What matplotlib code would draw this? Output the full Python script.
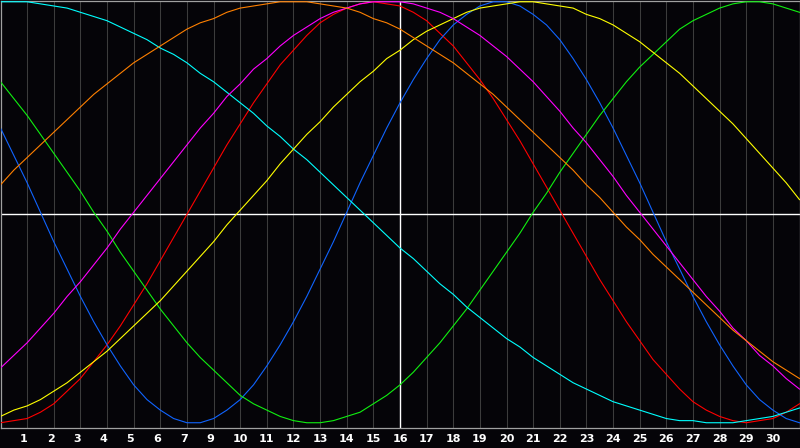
import matplotlib
matplotlib.use("Agg")
import matplotlib.pyplot as plt
import numpy as np

# ── Data: cycle values in % (-100..100), read every half day ────────────────
days = np.arange(0, 30.01, 0.5)

red = [-100, -99, -98, -95, -91, -85, -79, -71, -63, -54, -44, -34, -23, -12, -1, 10, 21, 32, 42, 52,
       61, 70, 77, 84, 90, 94, 97, 99, 100, 99, 98, 95, 91, 85, 79, 71, 63, 54, 44, 34,
       23, 12, 1, -10, -21, -32, -42, -52, -61, -70, -77, -84, -90, -94, -97, -99, -100, -99, -98, -95, -91]
blue = [40, 27, 14, 0, -14, -27, -40, -52, -63, -73, -82, -89, -94, -98, -100, -100, -98, -94, -89, -82,
        -73, -63, -52, -40, -27, -14, 0, 14, 27, 40, 52, 63, 73, 82, 89, 94, 98, 100, 100, 98,
        94, 89, 82, 73, 63, 52, 40, 27, 14, 0, -14, -27, -40, -52, -63, -73, -82, -89, -94, -98, -100]
green = [62, 54, 46, 37, 28, 19, 10, 0, -9, -19, -28, -37, -46, -54, -62, -69, -75, -81, -87, -91,
         -94, -97, -99, -100, -100, -99, -97, -95, -91, -87, -82, -76, -69, -62, -54, -46, -37, -28, -19, -10,
         0, 9, 19, 28, 37, 46, 54, 62, 69, 75, 81, 87, 91, 94, 97, 99, 100, 100, 99, 97, 95]
cyan = [100, 100, 100, 99, 98, 97, 95, 93, 91, 88, 85, 82, 78, 75, 71, 66, 62, 57, 52, 47,
        41, 36, 30, 25, 19, 13, 7, 1, -5, -11, -17, -22, -28, -34, -39, -45, -50, -55, -60, -64,
        -69, -73, -77, -81, -84, -87, -90, -92, -94, -96, -98, -99, -99, -100, -100, -100, -99, -98, -97, -95, -93]
yellow = [-97, -94, -92, -89, -85, -81, -76, -71, -66, -60, -54, -48, -42, -35, -28, -21, -14, -6, 1, 8,
          15, 23, 30, 37, 43, 50, 56, 62, 67, 73, 77, 82, 86, 89, 92, 95, 97, 98, 99, 100,
          100, 99, 98, 97, 94, 92, 89, 85, 81, 76, 71, 66, 60, 54, 48, 42, 35, 28, 21, 14, 6]
magenta = [-74, -68, -62, -55, -48, -40, -33, -25, -17, -8, 0, 8, 16, 24, 32, 40, 47, 55, 61, 68,
           73, 79, 84, 88, 92, 95, 97, 99, 100, 100, 100, 99, 97, 95, 92, 88, 84, 79, 74, 68,
           62, 55, 48, 40, 33, 25, 17, 8, 0, -8, -16, -24, -32, -40, -47, -55, -61, -68, -73, -79, -84]
orange = [13, 20, 26, 32, 38, 44, 50, 56, 61, 66, 71, 75, 79, 83, 87, 90, 92, 95, 97, 98,
          99, 100, 100, 100, 99, 98, 97, 95, 92, 90, 87, 83, 79, 75, 71, 66, 61, 56, 50, 44,
          38, 32, 26, 20, 13, 7, 0, -7, -13, -20, -26, -32, -38, -44, -50, -56, -61, -66, -71, -75, -79]

# tick labels shown under grid lines 1..29 (the "8" is not on the chart)
day_labels = [1, 2, 3, 4, 5, 6, 7, 9, 10, 11, 12, 13, 14, 15, 16, 17, 18, 19, 20,
              21, 22, 23, 24, 25, 26, 27, 28, 29, 30]
today = 15

series = [
    (red, "#ff0000"),
    (blue, "#1064ff"),
    (green, "#10f010"),
    (cyan, "#00ffff"),
    (yellow, "#ffff00"),
    (magenta, "#ff00ff"),
    (orange, "#ff8000"),
]

# ── Figure ───────────────────────────────────────────────────────────────────
BG = "#050408"
fig = plt.figure(figsize=(8, 4.48), dpi=100)
fig.patch.set_facecolor(BG)
ax = fig.add_axes([0.5 / 800, 20 / 448, 799 / 800, 427.5 / 448])
ax.set_facecolor(BG)
ax.set_xlim(0, 30)
ax.set_ylim(-102.5, 100.6)
mid = sum(ax.get_ylim()) / 2

for k in range(1, 30):
    ax.axvline(k, color="#3c3c3c", linewidth=0.75, zorder=1)
ax.axvline(today, color="white", linewidth=1.0, zorder=2)
ax.axhline(mid, color="white", linewidth=1.0, zorder=2)

for vals, col in series:
    ax.plot(days, vals, color=col, linewidth=0.8, zorder=3)

ax.set_xticks([])
ax.set_yticks([])
for s in ax.spines.values():
    s.set_color("#a0a0a0")
    s.set_linewidth(0.9)

tr = ax.get_xaxis_transform()
for pos, lbl in enumerate(day_labels, start=1):
    shift = -0.12 if lbl < 10 else 0.0
    ax.text(pos + shift, -11 / 427.5, str(lbl), transform=tr, ha="center", va="center",
            fontsize=8, fontweight="bold", color="white", clip_on=False)

fig.savefig("out.png", dpi=100, facecolor=BG)
